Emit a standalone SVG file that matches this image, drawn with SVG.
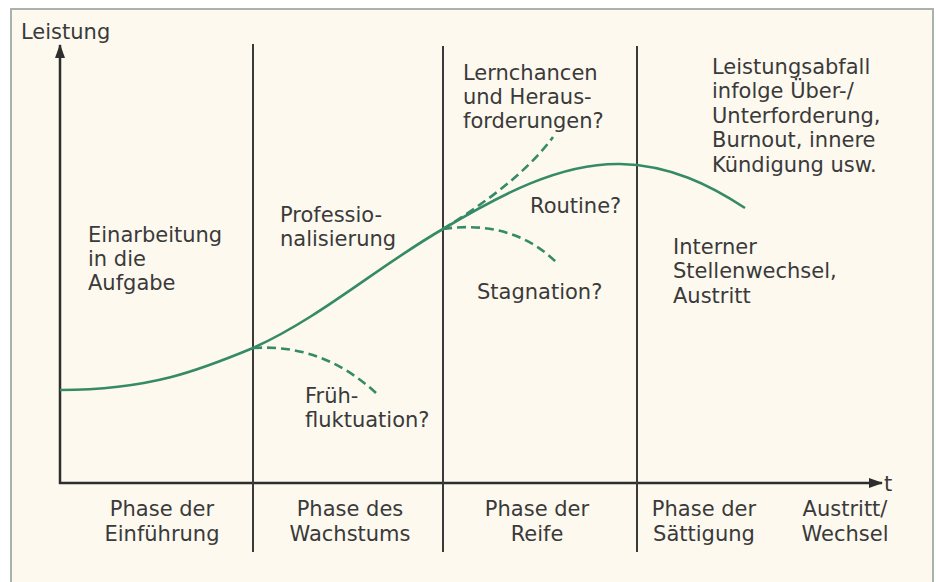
<svg xmlns="http://www.w3.org/2000/svg" width="936" height="582" viewBox="0 0 936 582">
<style>
text{font-family:"DejaVu Sans","Liberation Sans",sans-serif;font-size:21px;fill:#3a3a3a}
.ax{stroke:#2e2e2e;stroke-width:2.5;fill:none}
.ph{stroke:#3a3a3a;stroke-width:2;fill:none}
.cv{stroke:#358a68;stroke-width:2.6;fill:none}
.ds{stroke:#358a68;stroke-width:2.6;fill:none;stroke-dasharray:9 5}
.c{text-anchor:middle}
</style>
<defs>
<marker id="ah" markerWidth="14" markerHeight="10" refX="13" refY="5" orient="auto" markerUnits="userSpaceOnUse">
<path d="M0,0 L14,5 L0,10 Z" fill="#2e2e2e"/>
</marker>
</defs>
<rect x="0" y="0" width="936" height="582" fill="#ffffff"/>
<rect x="11" y="9" width="922" height="582" fill="#fdf9ef" stroke="#aab2ac" stroke-width="2"/>
<g id="axes">
<line class="ax" x1="60" y1="484" x2="60" y2="45" marker-end="url(#ah)"/>
<line class="ax" x1="59" y1="483" x2="882" y2="483" marker-end="url(#ah)"/>
</g>
<g id="phase-lines">
<line class="ph" x1="253" y1="44" x2="253" y2="552"/>
<line class="ph" x1="443" y1="46" x2="443" y2="552"/>
<line class="ph" x1="637" y1="46" x2="637" y2="552"/>
</g>
<g id="connectors">
<path class="cv" d="M60,390 C150,390 200,370 253,348 C320,318 380,265 443,229 C500,195 560,163 620,164 C670,165 710,185 745,208"/>
<path class="ds" d="M253,348 C300,345 340,360 376,393"/>
<path class="ds" d="M443,229 C490,222 530,235 558,264"/>
<path class="ds" d="M443,229 C480,206 525,175 553,137"/>
</g>
<g id="axis-labels">
<text x="21" y="39">Leistung</text>
<text x="884" y="491">t</text>
</g>
<g id="einarbeitung"><text x="88" y="242">Einarbeitung</text><text x="88" y="266">in die</text><text x="88" y="290">Aufgabe</text></g>
<g id="professionalisierung"><text x="280" y="222">Professio-</text><text x="280" y="246">nalisierung</text></g>
<g id="fruehfluktuation"><text x="305" y="403">Früh-</text><text x="305" y="427">fluktuation?</text></g>
<g id="lernchancen"><text x="463" y="80">Lernchancen</text><text x="463" y="104">und Heraus-</text><text x="463" y="128">forderungen?</text></g>
<g id="routine"><text x="530" y="213">Routine?</text></g>
<g id="stagnation"><text x="477" y="299">Stagnation?</text></g>
<g id="leistungsabfall"><text x="712" y="74">Leistungsabfall</text><text x="712" y="98">infolge Über-/</text><text x="712" y="123">Unterforderung,</text><text x="712" y="147">Burnout, innere</text><text x="712" y="172">Kündigung usw.</text></g>
<g id="interner"><text x="673" y="254">Interner</text><text x="673" y="278">Stellenwechsel,</text><text x="673" y="303">Austritt</text></g>
<g id="phase-einfuehrung"><text class="c" x="162" y="516">Phase der</text><text class="c" x="162" y="541">Einführung</text></g>
<g id="phase-wachstum"><text class="c" x="350" y="516">Phase des</text><text class="c" x="350" y="541">Wachstums</text></g>
<g id="phase-reife"><text class="c" x="537" y="516">Phase der</text><text class="c" x="537" y="541">Reife</text></g>
<g id="phase-saettigung"><text class="c" x="704" y="516">Phase der</text><text class="c" x="704" y="541">Sättigung</text></g>
<g id="austritt"><text class="c" x="845" y="516">Austritt/</text><text class="c" x="845" y="541">Wechsel</text></g>
</svg>
